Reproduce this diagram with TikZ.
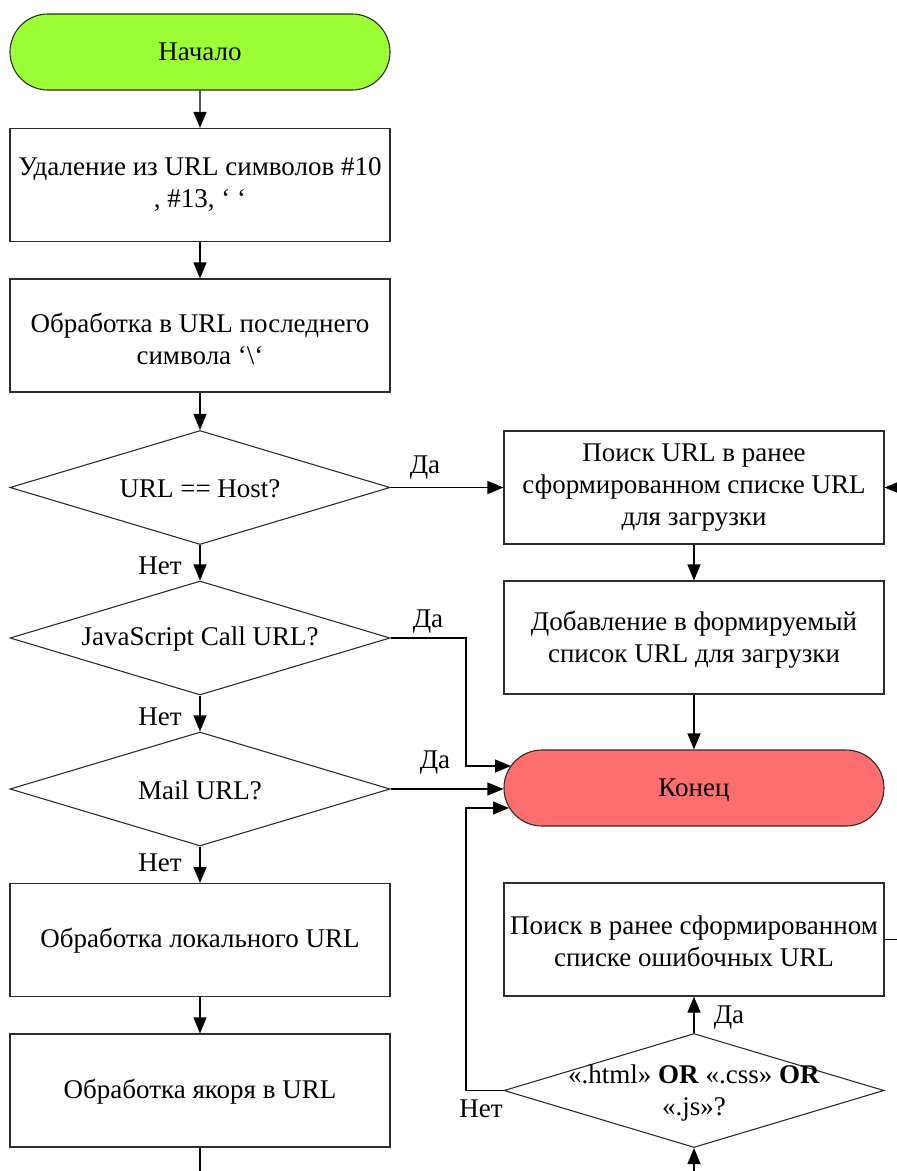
\documentclass[tikz,border=0pt]{standalone}
\usepackage{fontspec}
\setmainfont{Liberation Serif}
\usetikzlibrary{arrows.meta,shapes.geometric,shapes.misc}
\definecolor{startgreen}{RGB}{155,255,52}
\definecolor{endred}{RGB}{255,110,110}
\definecolor{edge}{RGB}{45,45,45}
\begin{document}
\begin{tikzpicture}[x=1pt,y=-1pt,
  font=\fontsize{27}{32}\selectfont,
  every node/.style={inner sep=0pt},
  procbox/.style={draw=edge,line width=1.1pt,rectangle,minimum width=380pt,minimum height=113pt,align=center},
  termbox/.style={draw=edge,line width=1.1pt,rounded rectangle,minimum width=380pt,minimum height=76pt},
  decbox/.style={draw=edge,line width=1.1pt,diamond,minimum width=380pt,minimum height=114pt},
  arr/.style={line width=1.1pt,draw=black,-{Triangle[length=16pt,width=13pt]}},
  plain/.style={line width=1.1pt,draw=black},
  lbl/.style={align=center}]
\useasboundingbox (0,0) rectangle (897,1171);

% left column
\node[termbox,fill=startgreen] (start) at (200,52) {Начало};
\node[procbox] (b1) at (200,185) {Удаление из URL символов \#10\\, \#13, ‘ ‘};
\node[procbox] (b2) at (200,335.5) {};
\node[lbl] (b2t) at (200,339) {Обработка в URL последнего\\символа ‘\textbackslash‘};
\node[decbox] (d1) at (200,487.5) {};
\node[lbl] (d1t) at (200,489) {URL == Host?};
\node[decbox] (d2) at (200,638) {};
\node[lbl] (d2t) at (200,639) {JavaScript Call URL?};
\node[decbox] (d3) at (200,789) {};
\node[lbl] (d3t) at (200,790) {Mail URL?};
\node[procbox] (b3) at (200,940) {};
\node[lbl] (b3t) at (200,941) {Обработка локального URL};
\node[procbox] (b4) at (200,1090.5) {};
\node[lbl] (b4t) at (200,1092) {Обработка якоря в URL};

% right column
\node[procbox] (r1) at (694,487.5) {Поиск URL в ранее\\сформированном списке URL\\для загрузки};
\node[procbox] (r2) at (694,637.5) {};
\node[lbl] (r2t) at (694,640) {Добавление в формируемый\\список URL для загрузки};
\node[termbox,fill=endred] (konec) at (694,788) {};
\node[lbl] (konect) at (694,790) {Конец};
\node[procbox] (r5) at (694,939.5) {};
\node[lbl] (r5t) at (694,941) {Поиск в ранее сформированном\\списке ошибочных URL};
\node[decbox] (d4) at (694,1090.5) {};
\node[lbl] (d4t) at (694,1093) {«.html» \textbf{OR} «.css» \textbf{OR}\\«.js»?};

% helper points
\coordinate (jx) at (466,0);
\coordinate (kin1) at (511,766);
\coordinate (kin2) at (509,808);
\coordinate (lowL) at (200,1185);
\coordinate (lowR) at (694,1185);
\coordinate (farR) at (906,0);

% main chain
\draw[arr] (start) -- (b1);
\draw[arr] (b1) -- (b2);
\draw[arr] (b2) -- (d1);
\draw[arr] (d1) -- (d2);
\draw[arr] (d2) -- (d3);
\draw[arr] (d3) -- (b3);
\draw[arr] (b3) -- (b4);
\draw[plain] (b4.south) -- (lowL);

% right branch
\draw[arr] (d1.east) -- (d1.east -| r1.west);
\draw[arr] (r1) -- (r2);
\draw[arr] (r2) -- (konec);
\draw[arr] (d2.east) -- (d2.east -| jx) -- (jx |- kin1) -- (kin1);
\draw[arr] (d3.east) -- (d3.east -| konec.west);
\draw[arr] (d4.west) -- (d4.west -| jx) -- (jx |- kin2) -- (kin2);
\draw[arr] (d4.north) -- (r5.south);
\draw[arr] (lowR) -- (d4.south);
\draw[arr] (r5.east) -- (r5.east -| farR) -- (farR |- r1.east) -- (r1.east);

% branch labels
\node (l1) at (425,468) {Да};
\node (l2) at (428,622) {Да};
\node (l3) at (435,763) {Да};
\node (l4) at (729,1018) {Да};
\node (n1) at (160,566) {Нет};
\node (n2) at (160,717) {Нет};
\node (n3) at (160,863) {Нет};
\node (n4) at (481,1109) {Нет};
\end{tikzpicture}
\end{document}
